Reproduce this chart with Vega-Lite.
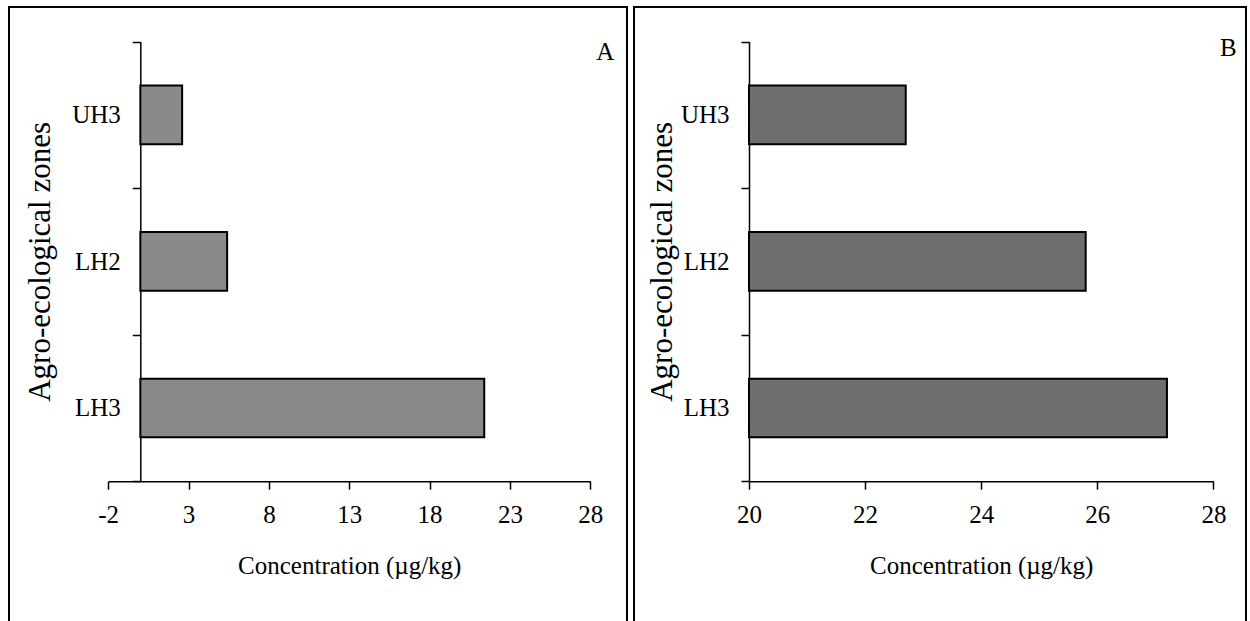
{
  "$schema": "https://vega.github.io/schema/vega-lite/v6.json",
  "padding": {"left": 8, "top": -6, "right": 0, "bottom": -3},
  "background": "white",
  "bounds": "flush",
  "spacing": 7,
  "datasets": {
    "a": [
      {"zone": "UH3", "value": 2.6},
      {"zone": "LH2", "value": 5.4},
      {"zone": "LH3", "value": 21.4}
    ],
    "b": [
      {"zone": "UH3", "value": 22.7},
      {"zone": "LH2", "value": 25.8},
      {"zone": "LH3", "value": 27.2}
    ],
    "la": [{"panel": "A", "zone": "UH3", "value": 28}],
    "lb": [{"panel": "B", "zone": "UH3", "value": 28}]
  },
  "config": {
    "view": {"stroke": "black", "strokeWidth": 2},
    "font": "Liberation Serif",
    "axis": {
      "domainColor": "black",
      "domainWidth": 1.5,
      "tickColor": "black",
      "tickWidth": 1.5,
      "tickSize": 8,
      "grid": false,
      "labelFlush": false,
      "labelFont": "Liberation Serif",
      "labelFontSize": 25,
      "labelColor": "black",
      "titleFont": "Liberation Serif",
      "titleFontSize": 25,
      "titleFontWeight": "normal",
      "titleColor": "black"
    }
  },
  "hconcat": [
    {
      "width": 618,
      "height": 617,
      "encoding": {
        "y": {
          "field": "zone", "type": "nominal",
          "scale": {"domain": ["UH3", "LH2", "LH3"], "range": [34.6, 474.2], "paddingInner": 0, "paddingOuter": 0},
          "axis": {"offset": -131.3, "tickBand": "extent", "labelPadding": 12, "labelAngle": 0,
                   "title": "Agro-ecological zones", "titleFontSize": 31, "titleX": -91, "titleBaseline": "alphabetic", "titleAngle": -90}
        },
        "x": {
          "field": "value", "type": "quantitative",
          "scale": {"domain": [-2, 28], "range": [99.2, 581.3], "nice": false, "zero": false},
          "axis": {"values": [-2, 3, 8, 13, 18, 23, 28], "offset": -142.8, "labelPadding": 13,
                   "labelExpr": "'' + datum.value",
                   "title": "Concentration (µg/kg)", "titleY": 92.5, "titleBaseline": "alphabetic"}
        }
      },
      "layer": [
        {
          "data": {"name": "a"},
          "mark": {"type": "bar", "stroke": "black", "strokeWidth": 2, "fill": "#8a8a8a", "height": {"band": 0.4}},
          "encoding": {"x2": {"datum": 0}}
        },
        {
          "data": {"name": "la"},
          "mark": {"type": "text", "fontSize": 25, "fill": "black", "align": "right", "baseline": "alphabetic", "dx": 24, "dy": -54.7},
          "encoding": {
            "text": {"field": "panel", "type": "nominal"}
          }
        }
      ]
    },
    {
      "width": 612,
      "height": 617,
      "encoding": {
        "y": {
          "field": "zone", "type": "nominal",
          "scale": {"domain": ["UH3", "LH2", "LH3"], "range": [34.6, 474.2], "paddingInner": 0, "paddingOuter": 0},
          "axis": {"offset": -115, "tickBand": "extent", "labelPadding": 12, "labelAngle": 0,
                   "title": "Agro-ecological zones", "titleFontSize": 31, "titleX": -77.7, "titleBaseline": "alphabetic", "titleAngle": -90}
        },
        "x": {
          "field": "value", "type": "quantitative",
          "scale": {"domain": [20, 28], "range": [115, 579.4], "nice": false, "zero": false},
          "axis": {"values": [20, 22, 24, 26, 28], "offset": -142.8, "labelPadding": 13,
                   "labelExpr": "'' + datum.value",
                   "title": "Concentration (µg/kg)", "titleY": 92.5, "titleBaseline": "alphabetic"}
        }
      },
      "layer": [
        {
          "data": {"name": "b"},
          "mark": {"type": "bar", "stroke": "black", "strokeWidth": 2, "fill": "#6e6e6e", "height": {"band": 0.4}},
          "encoding": {"x2": {"datum": 20}}
        },
        {
          "data": {"name": "lb"},
          "mark": {"type": "text", "fontSize": 25, "fill": "black", "align": "right", "baseline": "alphabetic", "dx": 23.3, "dy": -58.9},
          "encoding": {
            "text": {"field": "panel", "type": "nominal"}
          }
        }
      ]
    }
  ]
}
